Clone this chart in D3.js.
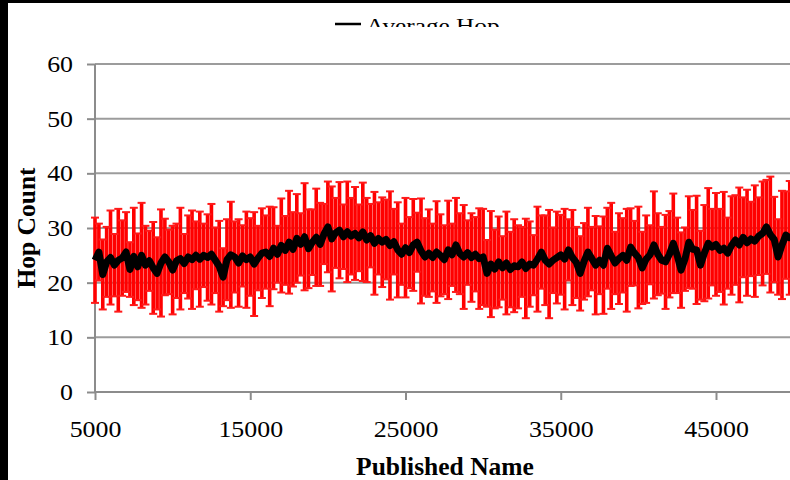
<!DOCTYPE html>
<html>
<head>
<meta charset="utf-8">
<script src="https://cdn.jsdelivr.net/npm/d3@7"></script>
<style>
  html, body { margin: 0; padding: 0; background: #fff; }
  svg { display: block; }
</style>
</head>
<body>
<svg id="chart" width="790" height="480"></svg>
<script>
// ---- data ----
const xStart = 5000, xStep = 250;
const meanHops = [
  24.1, 25.6, 21.5, 23.8, 24.6, 23.2, 24.1, 24.5, 25.6, 22.4,
  24.8, 22.9, 25.0, 23.2, 24.0, 22.7, 21.7, 23.6, 24.7, 23.8,
  22.3, 24.0, 24.4, 23.5, 24.7, 24.2, 25.0, 24.3, 25.0, 24.6,
  25.2, 24.1, 23.0, 21.0, 24.2, 25.1, 24.7, 23.6, 24.9, 24.2,
  24.7, 23.4, 24.5, 25.4, 25.6, 24.8, 26.3, 25.2, 26.8, 25.9,
  27.4, 26.1, 28.1, 27.0, 28.4, 26.2, 27.4, 28.3, 27.0, 28.9,
  30.2, 28.0, 29.1, 29.6, 28.4, 29.3, 28.5, 29.0, 28.2, 29.3,
  27.8, 28.6, 27.2, 28.1, 27.4, 27.9, 26.8, 27.5, 26.0, 25.2,
  26.4, 25.5, 26.9, 27.4, 25.8, 24.7, 25.4, 24.6, 25.6, 25.0,
  24.2, 26.0, 25.1, 26.9, 25.3, 24.7, 25.5, 24.6, 25.2, 24.4,
  24.7, 21.7, 23.4, 22.5, 23.8, 22.7, 23.6, 22.4, 23.1, 22.9,
  23.8, 22.6, 23.4, 23.2, 24.3, 25.6, 24.1, 23.4, 24.1, 24.6,
  25.1, 24.3, 26.0, 24.6, 23.7, 21.7, 23.9, 25.6, 24.4, 23.2,
  24.1, 23.2, 26.3, 24.9, 23.6, 24.4, 25.0, 24.1, 26.5, 25.4,
  24.6, 22.7, 24.3, 25.1, 26.9, 25.2, 24.1, 23.8, 25.2, 27.2,
  25.0, 22.3, 24.3, 27.4, 26.1, 26.0, 23.2, 25.4, 27.2, 26.5,
  27.0, 25.9, 26.3, 25.4, 26.8, 27.8, 26.9, 28.3, 27.3, 28.0,
  27.6, 28.5, 29.0, 30.2, 28.8, 27.9, 24.7, 26.9, 28.7, 28.2,
  28.5
];
const errHops = [
  7.8, 5.2, 6.4, 6.4, 8.6, 5.7, 9.4, 6.9, 7.3, 5.0,
  8.9, 6.1, 9.6, 7.2, 5.5, 8.4, 6.6, 9.8, 7.0, 5.9,
  8.1, 6.8, 9.3, 5.4, 7.6, 9.0, 6.2, 8.7, 5.8, 7.9,
  9.2, 6.0, 8.3, 5.3, 7.4, 9.7, 6.5, 8.0, 5.6, 8.8,
  7.1, 9.5, 5.9, 8.2, 6.7, 9.1, 7.5, 5.2, 8.6, 6.3,
  9.4, 6.8, 8.1, 5.7, 9.8, 7.2, 6.0, 8.9, 7.6, 5.5,
  8.3, 9.6, 6.4, 8.8, 5.9, 9.2, 7.0, 8.5, 6.1, 9.0,
  7.7, 5.8, 9.4, 6.6, 8.2, 7.3, 9.9, 6.0, 8.7, 5.6,
  9.1, 6.5, 8.4, 5.4, 9.6, 7.1, 8.0, 6.2, 9.3, 7.5,
  6.3, 9.0, 5.7, 8.6, 7.4, 9.5, 5.9, 8.1, 6.8, 9.2,
  8.8, 6.1, 9.7, 7.2, 8.3, 5.8, 9.4, 6.9, 8.5, 7.6,
  6.4, 9.1, 7.8, 5.5, 9.6, 6.7, 8.2, 9.9, 6.0, 8.4,
  7.3, 9.2, 5.6, 8.7, 6.5, 6.8, 7.0, 8.1, 5.8, 9.0,
  6.2, 8.9, 7.4, 9.7, 5.7, 8.3, 6.8, 9.4, 7.1, 5.9,
  9.3, 6.6, 8.0, 5.4, 9.8, 7.5, 6.1, 8.6, 7.9, 9.1,
  6.9, 6.9, 5.8, 8.4, 7.2, 9.9, 6.3, 8.8, 10.1, 7.0,
  9.4, 7.6, 10.3, 6.5, 9.0, 8.2, 10.5, 7.3, 9.7, 6.8,
  10.2, 7.1, 9.5, 8.6, 10.6, 7.8, 6.9, 9.9, 8.0, 10.4,
  8.7
];
const yTicks = [0, 10, 20, 30, 40, 50, 60];
const xTicks = [5000, 15000, 25000, 35000, 45000];
const legendLabel = "Average Hop";
const xTitle = "Published Name";
const yTitle = "Hop Count";

const points = meanHops.map((m, i) => ({ x: xStart + i * xStep, mean: m, err: errHops[i] }));

// ---- layout ----
const svg = d3.select("#chart");
const W = 790, H = 480;
const plotLeft = 95, plotTop = 64, plotBottom = 392;
const x = d3.scaleLinear().domain([5000, 50000]).range([plotLeft, plotLeft + 4.5 * 155.25]);
const y = d3.scaleLinear().domain([0, 60]).range([plotBottom, plotTop]);
const serif = "'Liberation Serif', 'Times New Roman', serif";
const tickFont = 22.5, stretch = 1.15;

svg.append("rect").attr("width", W).attr("height", H).attr("fill", "#fff");

// gridlines
svg.append("g").selectAll("line").data(yTicks.filter(d => d > 0)).join("line")
  .attr("x1", plotLeft).attr("x2", W)
  .attr("y1", d => y(d)).attr("y2", d => y(d))
  .attr("stroke", "#9c9c9c").attr("stroke-width", 2);

// y axis
const yAxis = svg.append("g").attr("transform", `translate(${plotLeft},0)`)
  .call(d3.axisLeft(y).tickValues(yTicks).tickSize(8));
yAxis.select(".domain").attr("stroke", "#8c8c8c").attr("stroke-width", 2)
  .attr("d", `M0,${plotTop}V${plotBottom}`);
yAxis.selectAll(".tick line").attr("stroke", "#8c8c8c").attr("stroke-width", 2);
yAxis.selectAll("text").attr("font-family", serif).attr("font-size", tickFont).attr("fill", "#000")
  .attr("x", 0).attr("dy", "0.33em").attr("text-anchor", "end")
  .attr("transform", `translate(-22,0) scale(${stretch},1)`);

// x axis
const xAxis = svg.append("g").attr("transform", `translate(0,${plotBottom})`)
  .call(d3.axisBottom(x).tickValues(xTicks).tickFormat(d3.format("d")).tickSize(8));
xAxis.select(".domain").attr("stroke", "#8c8c8c").attr("stroke-width", 2)
  .attr("d", `M${plotLeft},0H${W}`);
xAxis.selectAll(".tick line").attr("stroke", "#8c8c8c").attr("stroke-width", 2);
xAxis.selectAll("text").attr("font-family", serif).attr("font-size", tickFont).attr("fill", "#000")
  .attr("y", 0).attr("dy", 0)
  .attr("transform", `translate(0,45) scale(${stretch},1)`);

// error bars
const eb = svg.append("g");
eb.selectAll("line.v").data(points).join("line").attr("class", "v")
  .attr("x1", d => x(d.x)).attr("x2", d => x(d.x))
  .attr("y1", d => y(d.mean - d.err)).attr("y2", d => y(d.mean + d.err))
  .attr("stroke", "#ff0000").attr("stroke-width", 3.6);
eb.selectAll("line.t").data(points).join("line").attr("class", "t")
  .attr("x1", d => x(d.x) - 4).attr("x2", d => x(d.x) + 4)
  .attr("y1", d => y(d.mean + d.err)).attr("y2", d => y(d.mean + d.err))
  .attr("stroke", "#ff1a1a").attr("stroke-width", 2);
eb.selectAll("line.b").data(points).join("line").attr("class", "b")
  .attr("x1", d => x(d.x) - 4).attr("x2", d => x(d.x) + 4)
  .attr("y1", d => y(d.mean - d.err)).attr("y2", d => y(d.mean - d.err))
  .attr("stroke", "#ff1a1a").attr("stroke-width", 2);

// mean line
svg.append("path").datum(points)
  .attr("d", d3.line().x(d => x(d.x)).y(d => y(d.mean)))
  .attr("fill", "none").attr("stroke", "#000").attr("stroke-width", 7)
  .attr("stroke-linejoin", "round");

// legend (clipped at top as in original)
svg.append("clipPath").attr("id", "legclip").append("rect")
  .attr("x", 0).attr("y", 0).attr("width", W).attr("height", 27);
const leg = svg.append("g").attr("clip-path", "url(#legclip)");
leg.append("line").attr("x1", 335).attr("x2", 361).attr("y1", 24).attr("y2", 24)
  .attr("stroke", "#000").attr("stroke-width", 2.5);
leg.append("text").attr("transform", `translate(366,33) scale(${stretch},1)`).text(legendLabel)
  .attr("font-family", serif).attr("font-size", 22).attr("fill", "#000");

// titles
svg.append("text").attr("x", 445).attr("y", 475).attr("text-anchor", "middle")
  .attr("font-family", serif).attr("font-size", 25.5).attr("font-weight", "bold").text(xTitle);
svg.append("text").attr("transform", "translate(35,228) rotate(-90)").attr("text-anchor", "middle")
  .attr("font-family", serif).attr("font-size", 25.5).attr("font-weight", "bold").text(yTitle);

// black frame edges
svg.append("rect").attr("x", 0).attr("y", 0).attr("width", W).attr("height", 3).attr("fill", "#000");
svg.append("rect").attr("x", 0).attr("y", 0).attr("width", 8).attr("height", H).attr("fill", "#000");
</script>
</body>
</html>
